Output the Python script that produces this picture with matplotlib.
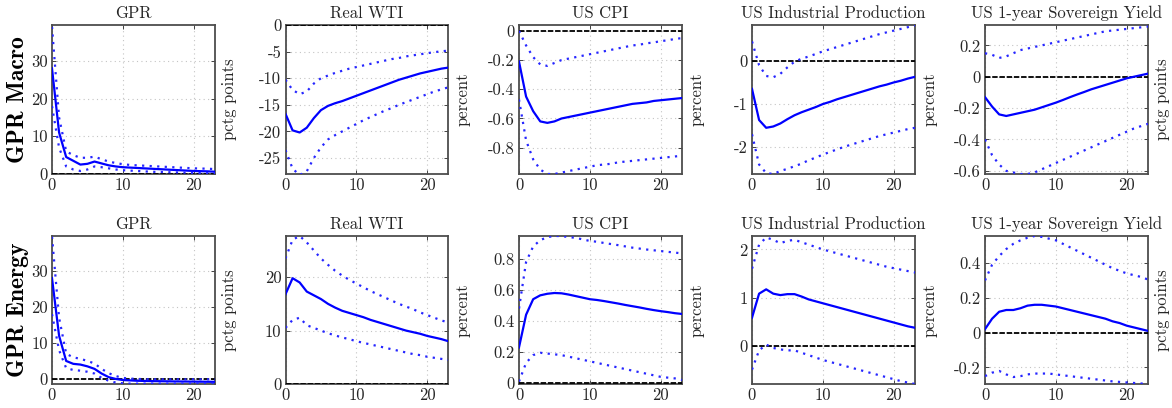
import numpy as np
import matplotlib
matplotlib.use("Agg")
import matplotlib.pyplot as plt
from matplotlib.ticker import FuncFormatter

plt.rcParams['font.family'] = ['cmr10', 'DejaVu Serif']
plt.rcParams['axes.unicode_minus'] = False
plt.rcParams['mathtext.fontset'] = 'cm'

horizon = np.arange(24)

titles = ["GPR", "Real WTI", "US CPI", "US Industrial Production", "US 1-year Sovereign Yield"]
units = ["pctg points", "percent", "percent", "percent", "pctg points"]
row_labels = ["GPR Macro", "GPR Energy"]

# ---------- Row 1: GPR Macro shock ----------
macro_gpr_med = [28, 11, 4.5, 3.5, 2.5, 2.7, 3.3, 2.8, 2.3, 2.0, 1.8, 1.7, 1.6, 1.5, 1.4, 1.3, 1.2, 1.1, 1.0, 0.9, 0.8, 0.75, 0.7, 0.6]
macro_gpr_up = [39, 15, 6, 5, 4.3, 4.3, 4.6, 3.9, 3.3, 2.9, 2.6, 2.4, 2.3, 2.2, 2.1, 2.0, 1.9, 1.8, 1.7, 1.6, 1.5, 1.45, 1.4, 1.3]
macro_gpr_lo = [18, 7, 2, 1.2, 0.8, 1.2, 2.0, 1.8, 1.5, 1.2, 1.0, 0.9, 0.8, 0.7, 0.6, 0.55, 0.5, 0.45, 0.4, 0.35, 0.3, 0.25, 0.22, 0.2]

macro_wti_med = [-16.7, -19.8, -20.2, -19.3, -17.5, -16.0, -15.2, -14.7, -14.3, -13.8, -13.3, -12.8, -12.3, -11.8, -11.3, -10.8, -10.3, -9.9, -9.5, -9.1, -8.8, -8.5, -8.2, -8.0]
macro_wti_up = [-10.3, -12.2, -13.0, -12.5, -11.0, -10.0, -9.5, -9.0, -8.6, -8.2, -7.9, -7.6, -7.3, -7.0, -6.7, -6.4, -6.2, -5.9, -5.7, -5.5, -5.3, -5.1, -4.95, -4.8]
macro_wti_lo = [-23.5, -27.0, -28.2, -27.5, -25.0, -23.0, -21.5, -20.7, -20.0, -19.3, -18.6, -17.9, -17.3, -16.7, -16.1, -15.6, -15.0, -14.5, -14.0, -13.5, -13.0, -12.5, -12.1, -11.7]

macro_cpi_med = [-0.21, -0.45, -0.55, -0.62, -0.63, -0.62, -0.60, -0.59, -0.58, -0.57, -0.56, -0.55, -0.54, -0.53, -0.52, -0.51, -0.50, -0.495, -0.49, -0.48, -0.475, -0.47, -0.465, -0.46]
macro_cpi_up = [0.0, -0.10, -0.18, -0.23, -0.24, -0.22, -0.20, -0.19, -0.18, -0.17, -0.16, -0.15, -0.14, -0.13, -0.12, -0.11, -0.10, -0.095, -0.085, -0.08, -0.07, -0.065, -0.055, -0.05]
macro_cpi_lo = [-0.47, -0.75, -0.88, -0.95, -0.98, -0.98, -0.97, -0.96, -0.95, -0.94, -0.93, -0.92, -0.915, -0.91, -0.90, -0.895, -0.89, -0.885, -0.88, -0.875, -0.87, -0.865, -0.86, -0.855]

macro_ip_med = [-0.65, -1.37, -1.55, -1.52, -1.45, -1.35, -1.26, -1.19, -1.13, -1.07, -1.00, -0.95, -0.89, -0.84, -0.79, -0.74, -0.69, -0.64, -0.59, -0.55, -0.50, -0.46, -0.41, -0.37]
macro_ip_up = [0.45, -0.10, -0.35, -0.38, -0.30, -0.15, -0.02, 0.05, 0.10, 0.16, 0.22, 0.27, 0.32, 0.37, 0.42, 0.47, 0.52, 0.57, 0.62, 0.66, 0.70, 0.74, 0.78, 0.82]
macro_ip_lo = [-1.70, -2.40, -2.60, -2.62, -2.55, -2.50, -2.44, -2.38, -2.30, -2.24, -2.17, -2.11, -2.05, -1.99, -1.94, -1.89, -1.84, -1.79, -1.74, -1.70, -1.66, -1.62, -1.58, -1.55]

macro_yld_med = [-0.13, -0.19, -0.24, -0.25, -0.24, -0.23, -0.22, -0.21, -0.195, -0.18, -0.165, -0.148, -0.13, -0.113, -0.097, -0.08, -0.066, -0.052, -0.038, -0.024, -0.01, 0.0, 0.01, 0.02]
macro_yld_up = [0.15, 0.14, 0.12, 0.13, 0.15, 0.17, 0.18, 0.19, 0.20, 0.21, 0.22, 0.23, 0.24, 0.25, 0.26, 0.27, 0.28, 0.29, 0.295, 0.30, 0.305, 0.31, 0.315, 0.32]
macro_yld_lo = [-0.40, -0.50, -0.56, -0.60, -0.61, -0.62, -0.62, -0.61, -0.59, -0.57, -0.55, -0.53, -0.51, -0.49, -0.47, -0.45, -0.43, -0.41, -0.39, -0.37, -0.35, -0.33, -0.315, -0.30]

# ---------- Row 2: GPR Energy shock ----------
energy_gpr_med = [28, 12, 5, 4.2, 4.0, 3.5, 2.8, 1.5, 0.5, 0.0, -0.3, -0.4, -0.5, -0.55, -0.6, -0.62, -0.65, -0.68, -0.7, -0.72, -0.74, -0.76, -0.78, -0.8]
energy_gpr_up = [39.5, 17, 7, 6, 5.6, 5.0, 4.3, 2.8, 1.6, 0.8, 0.3, 0.1, 0.0, -0.05, -0.08, -0.1, -0.1, -0.1, -0.1, -0.1, -0.1, -0.1, -0.1, -0.1]
energy_gpr_lo = [18, 8, 3, 2.5, 2.3, 2.0, 1.5, 0.3, -0.5, -1.0, -1.2, -1.3, -1.3, -1.3, -1.3, -1.3, -1.3, -1.3, -1.3, -1.3, -1.3, -1.3, -1.3, -1.3]

energy_wti_med = [16.8, 19.8, 19.0, 17.3, 16.6, 15.9, 15.0, 14.3, 13.7, 13.3, 12.9, 12.5, 12.0, 11.6, 11.2, 10.8, 10.4, 10.0, 9.7, 9.4, 9.0, 8.7, 8.4, 8.0]
energy_wti_up = [23.5, 27.0, 27.7, 26.5, 25.0, 23.5, 22.3, 21.2, 20.3, 19.5, 18.8, 18.1, 17.4, 16.8, 16.2, 15.6, 15.0, 14.5, 14.0, 13.4, 12.9, 12.4, 11.9, 11.5]
energy_wti_lo = [10.5, 12.0, 12.4, 11.0, 10.5, 10.0, 9.5, 9.1, 8.7, 8.4, 8.0, 7.7, 7.4, 7.1, 6.8, 6.5, 6.2, 5.9, 5.6, 5.4, 5.1, 4.9, 4.7, 4.5]

energy_cpi_med = [0.23, 0.44, 0.54, 0.565, 0.575, 0.58, 0.578, 0.57, 0.56, 0.55, 0.54, 0.535, 0.528, 0.52, 0.512, 0.503, 0.495, 0.487, 0.478, 0.47, 0.463, 0.457, 0.45, 0.445]
energy_cpi_up = [0.48, 0.78, 0.88, 0.92, 0.94, 0.947, 0.947, 0.94, 0.935, 0.925, 0.915, 0.91, 0.902, 0.895, 0.888, 0.88, 0.872, 0.866, 0.86, 0.855, 0.85, 0.845, 0.84, 0.835]
energy_cpi_lo = [0.01, 0.13, 0.18, 0.195, 0.19, 0.185, 0.18, 0.17, 0.16, 0.15, 0.14, 0.13, 0.12, 0.11, 0.10, 0.09, 0.08, 0.07, 0.06, 0.05, 0.04, 0.035, 0.03, 0.02]

energy_ip_med = [0.58, 1.08, 1.17, 1.08, 1.05, 1.07, 1.07, 1.02, 0.96, 0.92, 0.88, 0.84, 0.80, 0.76, 0.72, 0.68, 0.64, 0.60, 0.56, 0.52, 0.48, 0.44, 0.40, 0.37]
energy_ip_up = [1.6, 2.1, 2.25, 2.2, 2.13, 2.18, 2.2, 2.15, 2.1, 2.05, 2.0, 1.96, 1.92, 1.88, 1.84, 1.80, 1.76, 1.72, 1.68, 1.64, 1.61, 1.58, 1.55, 1.52]
energy_ip_lo = [-0.5, -0.1, 0.02, -0.05, -0.08, -0.1, -0.1, -0.15, -0.2, -0.25, -0.3, -0.34, -0.38, -0.42, -0.46, -0.5, -0.54, -0.58, -0.62, -0.66, -0.7, -0.74, -0.77, -0.8]

energy_yld_med = [0.02, 0.08, 0.12, 0.13, 0.13, 0.14, 0.155, 0.16, 0.16, 0.155, 0.15, 0.14, 0.13, 0.12, 0.11, 0.10, 0.09, 0.08, 0.065, 0.055, 0.04, 0.03, 0.02, 0.01]
energy_yld_up = [0.30, 0.39, 0.44, 0.48, 0.51, 0.53, 0.545, 0.555, 0.55, 0.54, 0.53, 0.51, 0.49, 0.47, 0.45, 0.43, 0.41, 0.39, 0.37, 0.355, 0.34, 0.33, 0.32, 0.305]
energy_yld_lo = [-0.25, -0.23, -0.22, -0.24, -0.255, -0.25, -0.24, -0.235, -0.235, -0.235, -0.24, -0.245, -0.25, -0.255, -0.26, -0.265, -0.27, -0.275, -0.28, -0.283, -0.286, -0.289, -0.292, -0.295]

rows = [
    [(macro_gpr_med, macro_gpr_up, macro_gpr_lo),
     (macro_wti_med, macro_wti_up, macro_wti_lo),
     (macro_cpi_med, macro_cpi_up, macro_cpi_lo),
     (macro_ip_med, macro_ip_up, macro_ip_lo),
     (macro_yld_med, macro_yld_up, macro_yld_lo)],
    [(energy_gpr_med, energy_gpr_up, energy_gpr_lo),
     (energy_wti_med, energy_wti_up, energy_wti_lo),
     (energy_cpi_med, energy_cpi_up, energy_cpi_lo),
     (energy_ip_med, energy_ip_up, energy_ip_lo),
     (energy_yld_med, energy_yld_up, energy_yld_lo)],
]

ylims = [
    [(0, 39.5), (-28, 0), (-0.98, 0.04), (-2.62, 0.83), (-0.62, 0.33)],
    [(-1.4, 39.7), (0, 27.7), (-0.006, 0.947), (-0.8, 2.28), (-0.295, 0.555)],
]
yticks = [
    [[0, 10, 20, 30], [-25, -20, -15, -10, -5, 0], [-0.8, -0.6, -0.4, -0.2, 0], [-2, -1, 0], [-0.6, -0.4, -0.2, 0, 0.2]],
    [[0, 10, 20, 30], [0, 10, 20], [0, 0.2, 0.4, 0.6, 0.8], [0, 1, 2], [-0.2, 0, 0.2, 0.4]],
]

W, H = 11.72, 4.08
fig = plt.figure(figsize=(W, H), dpi=100)

lefts_px = [52, 285.5, 519, 752, 985]
width_px = 163
rows_px = [(25, 174), (236, 384)]

def fmt(v, p):
    v = round(v, 6)
    if v == 0:
        return "0"
    return f"{v:g}"

for r in range(2):
    top, bot = rows_px[r]
    for c in range(5):
        ax = fig.add_axes([lefts_px[c] / 1172, 1 - bot / 408, width_px / 1172, (bot - top) / 408])
        med, up, lo = rows[r][c]
        ax.axhline(0, color='k', lw=1.3, ls=(0, (3, 1)), zorder=3)
        ax.plot(horizon, med, color=(0, 0, 1), lw=1.6, zorder=4)
        ax.plot(horizon, up, color=(0.15, 0.15, 1), lw=1.6, ls=(0, (1, 2.4)), zorder=4)
        ax.plot(horizon, lo, color=(0.15, 0.15, 1), lw=1.6, ls=(0, (1, 2.4)), zorder=4)
        ax.set_xlim(0, 23)
        ax.set_ylim(*ylims[r][c])
        ax.set_xticks([0, 10, 20])
        ax.set_yticks(yticks[r][c])
        ax.yaxis.set_major_formatter(FuncFormatter(fmt))
        ax.grid(True, ls=(0, (1, 3)), color='#c4c4c4', lw=0.8)
        ax.tick_params(direction='in', length=3, width=0.6, labelsize=12,
                       top=True, right=True, colors='#262626', pad=3)
        for s in ax.spines.values():
            s.set_color('#4d4d4d')
            s.set_linewidth(1.3)
        ax.set_title(titles[c], fontsize=12, pad=5, color='#262626')
        ax.yaxis.set_label_position('right')
        ax.set_ylabel(units[c], fontsize=12, labelpad=5, color='#262626')

fig.text(18 / 1172, 1 - 100 / 408, row_labels[0], rotation=90, ha='center', va='center',
         fontsize=17, family=['cmb10', 'DejaVu Serif'])
fig.text(18 / 1172, 1 - 310 / 408, row_labels[1], rotation=90, ha='center', va='center',
         fontsize=17, family=['cmb10', 'DejaVu Serif'])

fig.savefig("out.png", dpi=100)
